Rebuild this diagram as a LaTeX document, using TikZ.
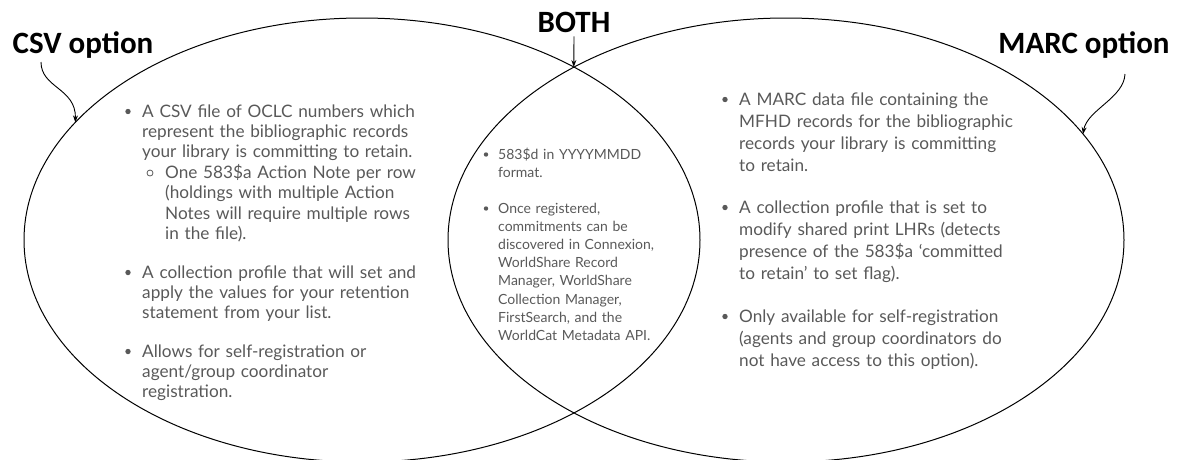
\documentclass[tikz,border=0pt]{standalone}
\usepackage{fontspec}
\setmainfont{Lato}
\newfontfamily\labelfont{Carlito}
\usepackage{xcolor}
\usetikzlibrary{arrows.meta,calc}
\definecolor{bodygray}{HTML}{595959}

\begin{document}
\begin{tikzpicture}[x=1pt,y=-1pt,>={Stealth[length=7pt,width=5pt]},line join=round,
  optlabel/.style={font=\labelfont\bfseries\fontsize{31}{36}\selectfont,inner sep=0pt,anchor=base},
  sidetext/.style={text=bodygray,anchor=base west,inner sep=0pt,text width=330pt,align=left,font=\fontsize{17.2}{#1}\selectfont},
  midtext/.style={text=bodygray,anchor=base west,inner sep=0pt,text width=200pt,align=left,font=\fontsize{14}{18.2}\selectfont}]
  \useasboundingbox (0,0) rectangle (1186,459);
  \clip (0,0) rectangle (1186,459);
  % the two sets
  \coordinate (LC) at (362,240);
  \coordinate (RC) at (786,240);
  \draw[line width=1pt] (LC) ellipse [x radius=338pt, y radius=222pt];
  \draw[line width=1pt] (RC) ellipse [x radius=338pt, y radius=222pt];
  \coordinate (LHIT) at ($(LC)+(148:338pt and 222pt)$);
  \coordinate (MEET) at ($(LC)+(51.2:338pt and 222pt)$);
  \coordinate (RHIT) at ($(RC)+(28.5:338pt and 222pt)$);
  % titles
  \node[optlabel] (CSV) at (83,53) {CSV option};
  \node[optlabel] (BOTH) at (574,32) {BOTH};
  \node[optlabel] (MARC) at (1084,53) {MARC option};
  \draw[line width=0.9pt,->] ([xshift=-42pt,yshift=-9pt]CSV.base)
    .. controls (41,88) and (76,88) .. (LHIT);
  \draw[line width=0.9pt,->] ([yshift=-4pt]BOTH.south) -- (MEET);
  \draw[line width=0.9pt,->] ([xshift=41pt,yshift=-21pt]MARC.base)
    .. controls (1124,98) and (1087,110) .. (RHIT);
  % left set
  \node[sidetext=20.4pt] (L1) at (142,117) {A CSV file of OCLC numbers which\\represent the bibliographic records\\your library is committing to retain.};
  \node[sidetext=20.4pt] (L1a) at (165,178.5) {One 583\$a Action Note per row\\(holdings with multiple Action\\Notes will require multiple rows\\in the file).};
  \node[sidetext=20.4pt] (L2) at (142,278) {A collection profile that will set and\\apply the values for your retention\\statement from your list.};
  \node[sidetext=20.4pt] (L3) at (142,357) {Allows for self-registration or\\agent/group coordinator\\registration.};
  \fill[bodygray] ([xshift=-14pt,yshift=5.5pt]L1.base west) circle (2.7pt);
  \draw[bodygray,line width=0.8pt] ([xshift=-15pt,yshift=5.5pt]L1a.base west) circle (3pt);
  \fill[bodygray] ([xshift=-14pt,yshift=5.5pt]L2.base west) circle (2.7pt);
  \fill[bodygray] ([xshift=-14pt,yshift=5.5pt]L3.base west) circle (2.7pt);
  % overlap
  \node[midtext] (M1) at (498,159) {583\$d in YYYYMMDD\\format.};
  \node[midtext] (M2) at (498,213) {Once registered,\\commitments can be\\discovered in Connexion,\\WorldShare Record\\Manager, WorldShare\\Collection Manager,\\FirstSearch, and the\\WorldCat Metadata API.};
  \fill[bodygray] ([xshift=-12pt,yshift=4.5pt]M1.base west) circle (2.2pt);
  \fill[bodygray] ([xshift=-12pt,yshift=4.5pt]M2.base west) circle (2.2pt);
  % right set
  \node[sidetext=22pt] (R1) at (739,105) {A MARC data file containing the\\MFHD records for the bibliographic\\records your library is committing\\to retain.};
  \node[sidetext=22pt] (R2) at (739,213) {A collection profile that is set to\\modify shared print LHRs (detects\\presence of the 583\$a ‘committed\\to retain’ to set flag).};
  \node[sidetext=22pt] (R3) at (739,322) {Only available for self-registration\\(agents and group coordinators do\\not have access to this option).};
  \fill[bodygray] ([xshift=-14pt,yshift=5.5pt]R1.base west) circle (2.7pt);
  \fill[bodygray] ([xshift=-14pt,yshift=5.5pt]R2.base west) circle (2.7pt);
  \fill[bodygray] ([xshift=-14pt,yshift=5.5pt]R3.base west) circle (2.7pt);
\end{tikzpicture}
\end{document}
